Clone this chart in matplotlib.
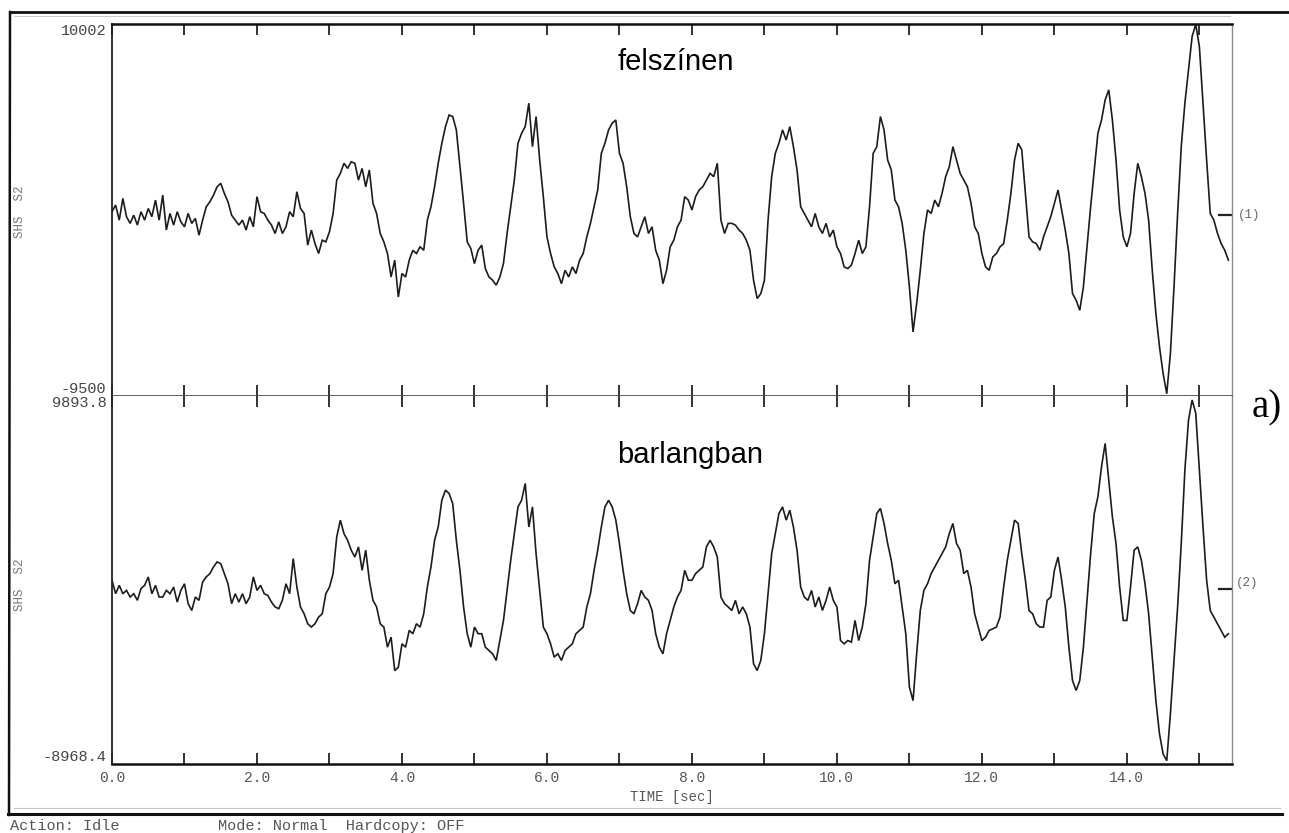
#!/usr/bin/env python3
"""Two stacked seismogram traces (surface vs. cave) in the style of an old SHS screen dump."""

import matplotlib

matplotlib.use("Agg")
import matplotlib.pyplot as plt
import numpy as np
from matplotlib.lines import Line2D
from matplotlib.ticker import FormatStrFormatter, MultipleLocator


FIG_W, FIG_H, DPI = 1289, 833, 100

SAMPLE_INTERVAL = 0.05  # s between read-off samples
TIME_END = 15.45

# counts, every 0.05 s
SURFACE_COUNTS = [
    160, 510, -280, 860, -100, -450, -20, -540, 160, -280,
    330, -100, 770, -280, 1030, -800, 70, -540, 160, -370,
    -630, 70, -450, -190, -1070, -280, 420, 680, 1030, 1470,
    1650, 1120, 680, -20, -280, -540, -280, -800, -100, -630,
    950, 160, 70, -280, -540, -980, -370, -980, -630, 160,
    -100, 1210, 330, 70, -1590, -800, -1510, -2030, -1330, -1420,
    -890, 70, 1820, 2170, 2700, 2430, 2780, 2700, 1820, 2430,
    1470, 2350, 600, 70, -980, -1420, -2030, -3260, -2380, -4310,
    -3080, -3260, -2380, -1860, -2030, -1680, -1860, -280, 420, 1470,
    2700, 3750, 4620, 5230, 5150, 4450, 2520, 600, -1420, -1770,
    -2560, -1860, -1590, -2820, -3260, -3430, -3690, -3260, -2560, -980,
    420, 1820, 3750, 4270, 4620, 5850, 3570, 5150, 2870, 950,
    -1160, -2030, -2730, -3080, -3610, -2910, -3260, -2730, -3080, -2380,
    -2030, -1160, -450, 420, 1300, 3220, 3750, 4450, 4800, 4970,
    3220, 2700, 1470, -100, -980, -1160, -630, -100, -980, -630,
    -1860, -2380, -3610, -2910, -1680, -1330, -630, -280, 950, 770,
    250, 950, 1300, 1470, 1820, 2170, 2000, 2700, -280, -980,
    -450, -450, -540, -800, -980, -1330, -1860, -3430, -4390, -4130,
    -3430, -280, 2000, 3220, 3750, 4450, 3920, 4620, 3570, 2350,
    420, 70, -280, -630, 70, -630, -980, -450, -1160, -800,
    -1680, -2030, -2730, -2820, -2640, -2030, -1330, -2030, -1680, 420,
    3220, 3570, 5150, 4450, 2870, 2350, 770, 420, -450, -1860,
    -3780, -6140, -4660, -2910, -980, 250, 70, 770, 420, 1120,
    2000, 2520, 3570, 2870, 2170, 1820, 1470, 600, -630, -980,
    -2030, -2730, -2910, -2210, -2030, -1680, -1510, -280, 1120, 2870,
    3750, 3400, 1120, -1160, -1420, -1510, -1860, -1160, -630, -100,
    600, 1300, 250, -800, -2030, -4130, -4480, -5010, -3780, -1680,
    420, 2350, 4270, 4970, 6020, 6550, 4970, 2870, 250, -1160,
    -1680, -980, 1120, 2700, 2000, 1120, -280, -2910, -5180, -6930,
    -8330, -9380, -7280, -3780, 70, 3570, 5850, 7600, 9350, 9980,
    8820, 5850, 2870, 70, -280, -980, -1510, -1860, -2380,
]

CAVE_COUNTS = [
    450, -240, 190, -240, -70, -410, -240, -580, 20, 190,
    620, -240, 190, -410, -410, -70, -240, 100, -670, -70,
    270, -750, -1100, -410, -580, 360, 620, 790, 1130, 1390,
    1300, 790, 270, -750, -240, -670, -240, -750, -410, 620,
    -70, 190, -240, -330, -670, -920, -1010, -580, 270, -240,
    1560, 100, -920, -1270, -1780, -1950, -1780, -1440, -1270, -240,
    100, 790, 2670, 3530, 2840, 2500, 1990, 1640, 2160, 960,
    1990, 450, -580, -920, -1780, -1950, -2980, -2470, -4180, -4010,
    -2810, -2980, -2120, -2290, -1780, -1950, -1270, 100, 1130, 2500,
    3180, 4550, 5070, 4900, 4380, 2500, 960, -920, -2290, -2980,
    -1950, -2290, -2290, -2980, -3150, -3320, -3660, -2640, -1610, -70,
    1470, 2840, 4210, 4550, 5410, 3180, 4210, 1810, -70, -1950,
    -2290, -2810, -3490, -3320, -3660, -3150, -2980, -2810, -2290, -2120,
    -1950, -920, -240, 960, 1990, 3180, 4210, 4550, 4210, 3530,
    2330, 960, -240, -1100, -1270, -750, -70, -410, -580, -1100,
    -2290, -2980, -3320, -2290, -1610, -920, -410, -70, 960, 450,
    450, 790, 960, 1130, 2160, 2500, 2160, 1640, -410, -750,
    -920, -1100, -580, -1270, -920, -1270, -1950, -3830, -4180, -3660,
    -2290, -240, 1810, 2840, 3870, 4210, 3530, 4040, 3180, 1990,
    100, -410, -580, -70, -920, -410, -1100, -580, 100, -580,
    -920, -2640, -2810, -2640, -2720, -1610, -2640, -1950, -750, 1470,
    2670, 3870, 4130, 3360, 2330, 1470, 270, 450, -920, -2290,
    -5030, -5720, -3320, -1100, -70, 270, 790, 1130, 1470, 1810,
    2160, 2840, 3360, 2330, 1990, 790, 960, 100, -1270, -1950,
    -2640, -2470, -2120, -2040, -1950, -1440, 100, 1470, 2500, 3530,
    3360, 1810, 450, -1100, -1270, -1780, -1950, -1950, -580, -410,
    960, 1640, 450, -920, -2980, -4690, -5200, -4690, -2980, -580,
    1810, 3870, 4730, 6270, 7460, 5580, 3700, 2330, 100, -1610,
    -1610, 100, 1990, 2160, 1470, 270, -1270, -3490, -5720, -7430,
    -8460, -8800, -6400, -3660, -920, 2330, 6090, 8660, 9690, 9010,
    6090, 3180, 450, -1100, -1440, -1780, -2120, -2470, -2290,
]

SURFACE_RANGE = (-9500, 10002)
CAVE_RANGE = (-8968.4, 9893.8)
SURFACE_RANGE_LABELS = ("-9500", "10002")
CAVE_RANGE_LABELS = ("-8968.4", "9893.8")
TRACE_TITLES = ("felszínen", "barlangban")
CHANNEL_TAGS = ("(1)", "(2)")

MONO = ["Liberation Mono", "DejaVu Sans Mono"]
TRACE_COLOR = "#1c1c1c"
SCREEN_GRAY = "#555555"


def fx(px: float) -> float:
    return px / FIG_W


def fy(py: float) -> float:
    return 1.0 - py / FIG_H


def frame_line(fig, x0, y0, x1, y1, lw, color="#111111") -> None:
    fig.add_artist(
        Line2D([fx(x0), fx(x1)], [fy(y0), fy(y1)], lw=lw, color=color,
               transform=fig.transFigure)
    )


def style_trace_axes(ax, y_range, y_labels, is_bottom: bool) -> None:
    ax.set_xlim(0.0, TIME_END)
    ax.set_ylim(*y_range)
    ax.xaxis.set_major_locator(MultipleLocator(2.0))
    ax.xaxis.set_minor_locator(MultipleLocator(1.0))
    ax.xaxis.set_major_formatter(FormatStrFormatter("%.1f"))
    ax.tick_params(axis="x", which="both", direction="in", length=8, width=1.3,
                   top=True, bottom=True, color="#222222",
                   labelbottom=is_bottom, labelsize=10.5, labelcolor=SCREEN_GRAY, pad=5)
    for label in ax.get_xticklabels():
        label.set_fontfamily(MONO)

    ax.set_yticks(list(y_range))
    ax.set_yticklabels(list(y_labels), fontfamily=MONO, fontsize=11, color="#444444")
    ax.tick_params(axis="y", length=0, pad=4)
    low_label, high_label = ax.get_yticklabels()
    low_label.set_verticalalignment("bottom")
    high_label.set_verticalalignment("top")

    ax.spines["left"].set(linewidth=1.3, color="#222222")
    ax.spines["right"].set(linewidth=1.0, color="#8a8a8a")
    if is_bottom:
        ax.spines["top"].set_visible(False)
        ax.spines["bottom"].set(linewidth=1.8, color="#111111")
    else:
        ax.spines["top"].set(linewidth=1.8, color="#111111")
        ax.spines["bottom"].set(linewidth=1.2, color="#444444")

    # small zero-level marker at the right edge
    ax.axhline(0, xmin=0.988, xmax=1.0, color="#222222", lw=1.6)


def main() -> None:
    fig = plt.figure(figsize=(FIG_W / DPI, FIG_H / DPI), dpi=DPI)
    fig.patch.set_facecolor("white")

    ax_top = fig.add_axes([fx(112), fy(396), (1232 - 112) / FIG_W, (396 - 24) / FIG_H])
    ax_bot = fig.add_axes([fx(112), fy(764), (1232 - 112) / FIG_W, (764 - 396) / FIG_H])

    traces = (
        (ax_top, SURFACE_COUNTS, SURFACE_RANGE, SURFACE_RANGE_LABELS, False),
        (ax_bot, CAVE_COUNTS, CAVE_RANGE, CAVE_RANGE_LABELS, True),
    )
    for ax, counts, y_range, y_labels, is_bottom in traces:
        counts = np.asarray(counts, dtype=float)
        times = np.arange(len(counts)) * SAMPLE_INTERVAL
        ax.plot(times, counts, color=TRACE_COLOR, lw=1.2, solid_joinstyle="miter")
        style_trace_axes(ax, y_range, y_labels, is_bottom)

    ax_bot.set_xlabel("TIME [sec]", fontfamily=MONO, fontsize=10,
                      color=SCREEN_GRAY, labelpad=4)

    # trace titles
    fig.text(fx(618), fy(70), TRACE_TITLES[0], fontsize=21,
             fontfamily=["Liberation Sans", "DejaVu Sans"], va="baseline", ha="left")
    fig.text(fx(617), fy(463), TRACE_TITLES[1], fontsize=21,
             fontfamily=["Liberation Sans", "DejaVu Sans"], va="baseline", ha="left")

    # channel tags on the right, station code on the left
    fig.text(fx(1238), fy(215), CHANNEL_TAGS[0], fontsize=9, fontfamily=MONO,
             color="#666666", va="center")
    fig.text(fx(1236), fy(583), CHANNEL_TAGS[1], fontsize=9, fontfamily=MONO,
             color="#666666", va="center")
    for y_px in (212, 585):
        fig.text(fx(20), fy(y_px), "SHS  S2", fontsize=9, fontfamily=MONO,
                 color="#777777", rotation=90, ha="center", va="center")

    fig.text(fx(1252), fy(408), "a)", fontsize=28,
             fontfamily=["Liberation Serif", "DejaVu Serif"], va="center", ha="left")

    # screen frame and status bar
    frame_line(fig, 10, 12, 1289, 12, 2.0)
    frame_line(fig, 14, 16, 1230, 16, 0.8, color="#cccccc")
    frame_line(fig, 10, 12, 9, 815, 1.8)
    frame_line(fig, 14, 808, 1280, 808, 0.8, color="#c4c4c4")
    frame_line(fig, 8, 814, 1282, 814, 2.2)
    fig.text(fx(10), fy(826), "Action: Idle", fontsize=11, fontfamily=MONO,
             color=SCREEN_GRAY, va="center", ha="left")
    fig.text(fx(218), fy(826), "Mode: Normal  Hardcopy: OFF", fontsize=11,
             fontfamily=MONO, color=SCREEN_GRAY, va="center", ha="left")

    fig.savefig("out.png", dpi=DPI, facecolor="white")
    plt.close(fig)


if __name__ == "__main__":
    main()
